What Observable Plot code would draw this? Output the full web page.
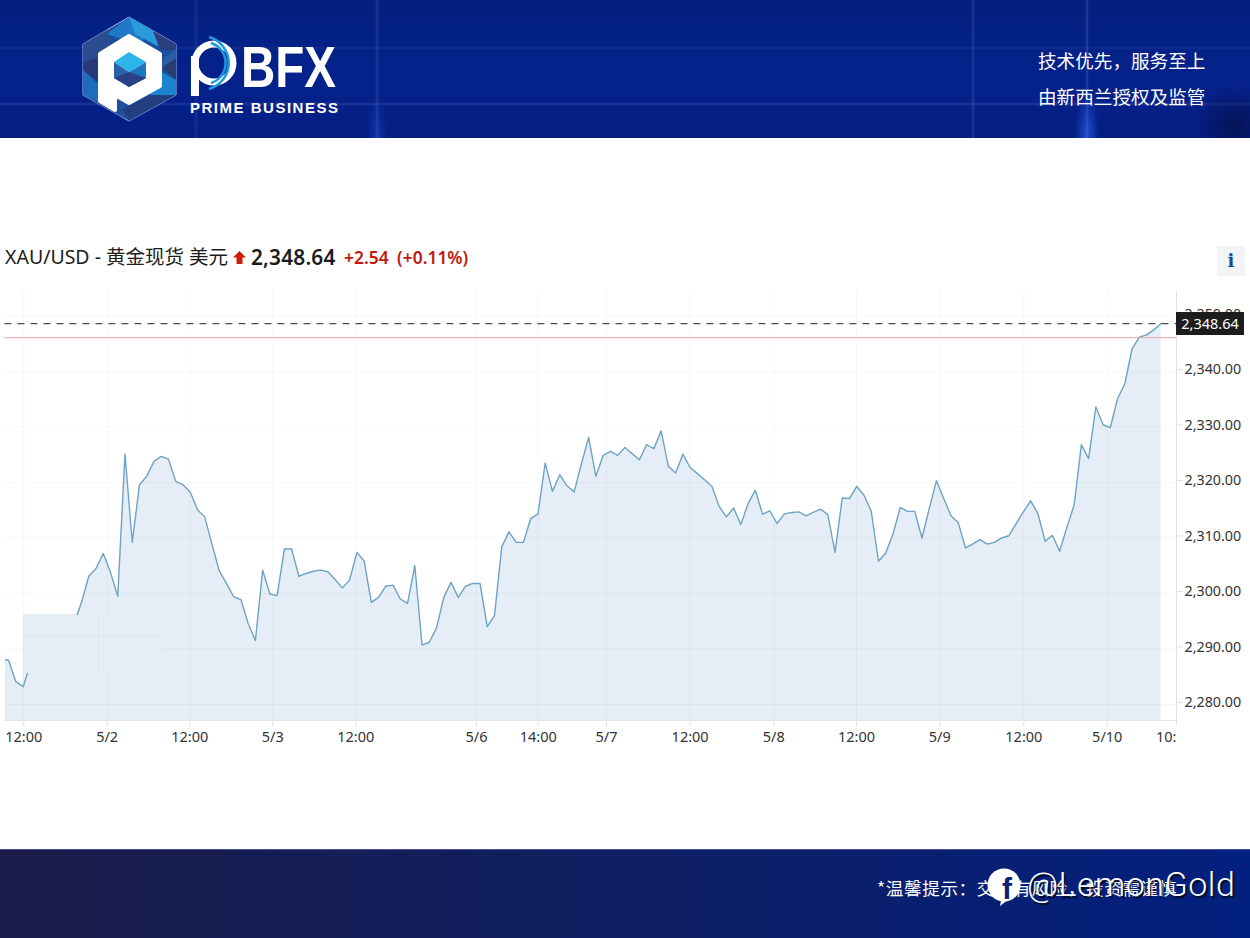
<!DOCTYPE html>
<html lang="zh">
<head>
<meta charset="utf-8">
<script src="https://cdn.jsdelivr.net/npm/d3@7"></script>
<script src="https://cdn.jsdelivr.net/npm/@observablehq/plot@0.6"></script>
<style>
html,body{margin:0;padding:0;background:#fff;width:1250px;height:938px;overflow:hidden;font-family:"Noto Sans","Noto Sans CJK SC",sans-serif}
#page{position:relative;width:1250px;height:938px}
#header{position:absolute;left:0;top:0;width:1250px;height:138px;
 background:
  radial-gradient(ellipse 40px 40px at 1235px 125px,rgba(5,15,70,.75),rgba(5,15,70,0)),
  radial-gradient(ellipse 12px 50px at 1087px 138px,rgba(50,110,255,.6),rgba(50,110,255,0)),
  radial-gradient(ellipse 10px 40px at 377px 138px,rgba(50,110,255,.3),rgba(50,110,255,0)),
  linear-gradient(90deg,rgba(150,180,255,0) 194px,rgba(150,180,255,.08) 195px,rgba(150,180,255,.08) 197px,rgba(150,180,255,0) 198px),
  linear-gradient(90deg,rgba(150,180,255,0) 375px,rgba(150,180,255,.16) 377px,rgba(150,180,255,0) 379px),
  linear-gradient(90deg,rgba(150,180,255,0) 971px,rgba(150,180,255,.16) 973px,rgba(150,180,255,0) 975px),
  linear-gradient(90deg,rgba(150,180,255,0) 1085px,rgba(150,180,255,.2) 1087px,rgba(150,180,255,0) 1089px),
  linear-gradient(180deg,rgba(150,180,255,0) 46px,rgba(150,180,255,.08) 48px,rgba(150,180,255,0) 50px),
  linear-gradient(180deg,rgba(150,180,255,0) 102px,rgba(150,180,255,.16) 104px,rgba(150,180,255,0) 106px),
  linear-gradient(180deg,#03207f 0%,#05228c 55%,#041f84 100%)}
#logo{position:absolute;left:0;top:0}
.slogan{position:absolute;left:1038px;color:#fff;font-size:18.6px;line-height:24px;font-family:"Noto Sans CJK SC",sans-serif;white-space:nowrap}
#title{position:absolute;left:5px;top:243px;height:28px;line-height:28px;white-space:nowrap;color:#1c1c1c;font-size:19.5px;font-family:"Noto Sans","Noto Sans CJK SC",sans-serif}
#title span{position:absolute;top:0;white-space:nowrap}
#info{position:absolute;left:1217px;top:246px;width:28px;height:30px;background:#f3f4f5;color:#174a86;font:bold 18px/30px "DejaVu Serif",serif;text-align:center}
#chart{position:absolute;left:0;top:280px}
#lastbox{position:absolute;left:1176px;top:312px;width:68px;height:23px;background:#1c1c1c;color:#fff;font-size:14.5px;line-height:23px;text-align:center}
#footer{position:absolute;left:0;top:849px;width:1250px;height:89px;border-top:1px solid #4a4f90;box-sizing:border-box;background:linear-gradient(90deg,#1b1c48 0%,#0f1f63 50%,#02207f 100%)}
#tip{position:absolute;left:877px;top:876px;color:#fff;font-size:17.6px;line-height:24px;letter-spacing:.6px;font-family:"Noto Sans CJK SC",sans-serif;white-space:nowrap}
#fb{position:absolute;left:0;top:0}
#mark{position:absolute;left:1027px;top:863px;color:#fff;font:300 34px/42px "Roboto",sans-serif;letter-spacing:.5px;white-space:nowrap;text-shadow:1.5px 1.5px 1px rgba(0,0,0,.75)}
</style>
</head>
<body>
<div id="page">
 <div id="header">
  <svg id="logo" width="400" height="138" viewBox="0 0 400 138">
   <polygon points="129,17 176,44 176,95 129,121 83,95 83,44" fill="#1c4f9e" stroke="#9db8ee" stroke-width="1"/>
   <polygon points="129,17 153,31 138,45 107,34 129,17" fill="#1f79c6"/>
   <polygon points="129,17 153,31 165,50 135,34" fill="#2a9ad8"/>
   <polygon points="153,31 176,44 176,50 160,50" fill="#2b3f80"/>
   <polygon points="83,44 107,30 112,50 83,62" fill="#2b4c8e"/>
   <polygon points="83,62 98,58 98,82 83,70" fill="#2a3878"/>
   <polygon points="83,70 98,84 98,102 83,95" fill="#1e6cbc"/>
   <polygon points="164,58 176,50 176,75 162,68" fill="#2a5da8"/>
   <polygon points="162,68 176,58 176,80" fill="#2b3c70"/>
   <polygon points="162,72 176,80 176,95 150,95" fill="#1a84cf"/>
   <polygon points="150,95 176,95 129,121 122,110" fill="#233f82"/>
   <polygon points="115,112 129,121 83,95 98,102" fill="#2a4a8e"/>
   <path d="M129,36 L160,54 L160,86 L129,103 L115,95 L115,110 L100,101 L100,54 Z" fill="#fff" stroke="#fff" stroke-width="4" stroke-linejoin="round"/>
   <polygon points="129,52 146,62 129,72 114,62" fill="#2bb6ea"/>
   <polygon points="146,62 146,78 129,87 129,72" fill="#1e77bd"/>
   <polygon points="114,62 129,72 129,87 114,78" fill="#2a62a8"/>
   <polygon points="129,72 146,78 129,87 114,78" fill="#2c4185"/>
   <circle cx="214" cy="63" r="19" fill="none" stroke="#fff" stroke-width="7"/>
   <rect x="191" y="56" width="8" height="40" fill="#fff"/>
   <path d="M205,37 A27,27 0 0 1 205,89" fill="none" stroke="#1d9be0" stroke-width="2.5" transform="translate(4,0)"/>
   <path d="M205,43 A21,21 0 0 1 205,83" fill="none" stroke="#1d9be0" stroke-width="2.5" transform="translate(6,0)"/>
   <text x="241" y="87" fill="#fff" font-family="Liberation Sans" font-weight="700" font-size="58" textLength="95" lengthAdjust="spacingAndGlyphs">BFX</text>
   <text x="190" y="113" fill="#fff" font-family="Liberation Sans" font-weight="700" font-size="15" textLength="148">PRIME BUSINESS</text>
  </svg>
  <div class="slogan" style="top:48px">技术优先，服务至上</div>
  <div class="slogan" style="top:84px">由新西兰授权及监管</div>
 </div>
 <div id="title">
  <span style="left:0">XAU/USD - 黄金现货 美元</span>
  <svg style="position:absolute;left:228px;top:8px" width="13" height="13" viewBox="0 0 13 13"><path d="M6.5,0 L13,6.5 L9.5,6.5 L9.5,13 L3.5,13 L3.5,6.5 L0,6.5 Z" fill="#cc1c10"/></svg>
  <span style="left:246px;font-weight:600;font-size:20.8px;letter-spacing:.2px">2,348.64</span>
  <span style="left:339px;font-weight:600;font-size:17.4px;color:#c4170c;word-spacing:4px">+2.54 (+0.11%)</span>
 </div>
 <div id="info">i</div>
 <div id="chart"></div>
 <div id="lastbox">2,348.64</div>
 <div id="footer"></div>
 <div id="tip">*温馨提示：交易有风险，投资需谨慎</div>
 <svg id="fb" width="1250" height="938" style="pointer-events:none">
  <circle cx="1004" cy="885" r="16.5" fill="#fff"/>
  <polygon points="1002,895 1000,906 1013,896" fill="#fff"/>
  <text x="1007" y="899" fill="#0a2078" font-family="Liberation Sans" font-weight="700" font-size="30" text-anchor="middle">f</text>
 </svg>
 <div id="mark">@LemonGold</div>
</div>
<script>
// Step index of each reading is its position in this list; the first emerges from the block at firstStep.
const prices = [
 2296.2,2298.4,2303.1,2304.5,2307.2,2303.8,2299.5,2325.1,2309.2,2319.6,2321.1,2323.8,2324.7,2324.2,2320.2,2319.6,
 2318.3,2315.1,2313.8,2308.9,2304.1,2301.8,2299.4,2298.9,2294.6,2291.5,2304.2,2299.9,2299.6,2308.0,2308.0,2303.1,
 2303.6,2304.0,2304.2,2303.9,2302.5,2301.0,2302.4,2307.4,2305.9,2298.4,2299.3,2301.3,2301.5,2299.0,2298.2,2305.0,
 2290.7,2291.2,2293.8,2299.3,2302.0,2299.3,2301.3,2301.8,2301.8,2294.0,2296.0,2308.4,2311.1,2309.2,2309.2,2313.5,
 2314.3,2323.5,2318.4,2321.4,2319.4,2318.3,2323.4,2328.1,2321.1,2324.9,2325.6,2324.9,2326.3,2325.2,2324.1,2326.8,
 2326.1,2329.3,2322.9,2321.7,2325.1,2322.7,2321.6,2320.5,2319.3,2315.7,2313.8,2315.4,2312.4,2316.2,2318.6,2314.3,
 2314.9,2312.6,2314.3,2314.6,2314.7,2314.0,2314.6,2315.2,2314.2,2307.4,2317.2,2317.1,2319.3,2317.7,2314.8,2305.8,
 2307.3,2310.7,2315.5,2314.8,2314.8,2310.0,2315.3,2320.3,2317.1,2314.0,2312.8,2308.2,2308.9,2309.7,2308.9,2309.2,
 2310.0,2310.4,2312.6,2314.7,2316.7,2314.4,2309.4,2310.5,2307.6,2311.9,2315.9,2326.8,2324.3,2333.6,2330.4,2329.9,
 2335.1,2337.8,2344.1,2346.2,2346.6,2347.5,2348.64
];
const firstStep = 0.41;
// Stub of the line left of the pasted-over block
const earlySteps  = [-9.5,-9.08,-8.07,-7.05,-6.46];
const earlyPrices = [2288.0,2288.0,2284.1,2283.2,2285.6];
// Flat top of the pasted block
const blockSteps  = [-7.04,firstStep];
const blockPrices = [2296.2,2296.2];

const yTicks = [2280,2290,2300,2310,2320,2330,2340,2350];
const xTickSteps  = [-6.97,4.54,15.94,27.4,38.85,55.51,64.03,73.46,85.0,96.55,107.96,119.46,131.06,142.57];
const xTickLabels = ["12:00","5/2","12:00","5/3","12:00","5/6","14:00","5/7","12:00","5/8","12:00","5/9","12:00","5/10"];
const xStartStep = -9.57, xEndStep = 152.13, xEndLabel = "10:";
const lastPrice = 2348.64, prevClose = 2346.10;
const yBase = 2277.1, yTop = 2354.6;
// Grid pieces displaced inside the pasted block
const splitStep = 4.54, blockGridRightStep = 12.13, shiftedGridPrice = 2292.25, shiftedGridStep = 3.38, blockBottomPrice = 2285.8;

const row = (x,y)=>({x,y});
const mainRows  = prices.map((p,i)=>row(i===0?firstStep:i,p));
const earlyRows = earlySteps.map((s,i)=>row(s,earlyPrices[i]));
const blockRows = blockSteps.map((s,i)=>row(s,blockPrices[i]));
const areaRows  = [...earlyRows.slice(0,4),...blockRows,...mainRows.slice(1)];
const tickLabel = new Map(xTickSteps.map((s,i)=>[s,xTickLabels[i]]));

const gridColor = "#48688c";
const hGrid = yTicks.filter(t=>t!==2290).map(t=>({y:t,x1:earlySteps[0],x2:xEndStep}));
hGrid.push({y:2290,x1:earlySteps[0],x2:blockSteps[0]},{y:2290,x1:blockGridRightStep,x2:xEndStep},{y:shiftedGridPrice,x1:blockSteps[0],x2:blockGridRightStep});
const vGrid = xTickSteps.filter(s=>s!==splitStep).map(s=>({x:s,y1:yBase,y2:yTop}));
vGrid.push({x:splitStep,y1:blockPrices[0],y2:yTop},{x:splitStep,y1:yBase,y2:blockBottomPrice},{x:shiftedGridStep,y1:blockBottomPrice,y2:blockPrices[0]});

const chart = Plot.plot({
  width:1250,height:480,
  marginLeft:4.44,marginRight:74,marginTop:10,marginBottom:40,
  style:{background:"transparent",fontFamily:'"Noto Sans","Noto Sans CJK SC",sans-serif',overflow:"visible"},
  x:{domain:[xStartStep,xEndStep],axis:null},
  y:{domain:[yBase,yTop],axis:null},
  marks:[
    Plot.area(areaRows,{x1:"x",y1:()=>yBase,y2:"y",fill:"#e5eef6"}),
    Plot.ruleY(hGrid,{y:"y",x1:"x1",x2:"x2",stroke:gridColor,strokeOpacity:.05}),
    Plot.ruleX(vGrid,{x:"x",y1:"y1",y2:"y2",stroke:gridColor,strokeOpacity:.05}),
    Plot.ruleY([yBase],{stroke:"#e2e5e9",strokeWidth:1}),
    Plot.ruleX([xEndStep],{y1:yBase,y2:yTop,stroke:"#dfe2e6"}),
    Plot.line(earlyRows,{x:"x",y:"y",stroke:"#6fa3c4",strokeWidth:1.4}),
    Plot.line(mainRows,{x:"x",y:"y",stroke:"#6fa3c4",strokeWidth:1.4}),
    Plot.ruleY([prevClose],{stroke:"#e8a6a2",strokeWidth:1}),
    Plot.ruleY([lastPrice],{stroke:"#4a4f55",strokeWidth:1.2,strokeDasharray:"7 6"}),
    Plot.axisY(yTicks,{anchor:"right",label:null,tickSize:6,tickPadding:2,stroke:"#dfe2e6",
      tickFormat:d3.format(",.2f"),fill:"#333",fontSize:14.3,dy:-2}),
    Plot.axisX([...xTickSteps,xEndStep],{anchor:"bottom",label:null,tickSize:6,tickPadding:5,stroke:"#dfe2e6",
      tickFormat:d=>tickLabel.get(d)||"",fill:"#333",fontSize:14.5}),
    Plot.text([xEndStep],{x:d=>d,y:()=>yBase,text:()=>xEndLabel,textAnchor:"end",dy:17,fill:"#333",fontSize:14.5})
  ]
});
document.getElementById("chart").appendChild(chart);
</script>
</body>
</html>
